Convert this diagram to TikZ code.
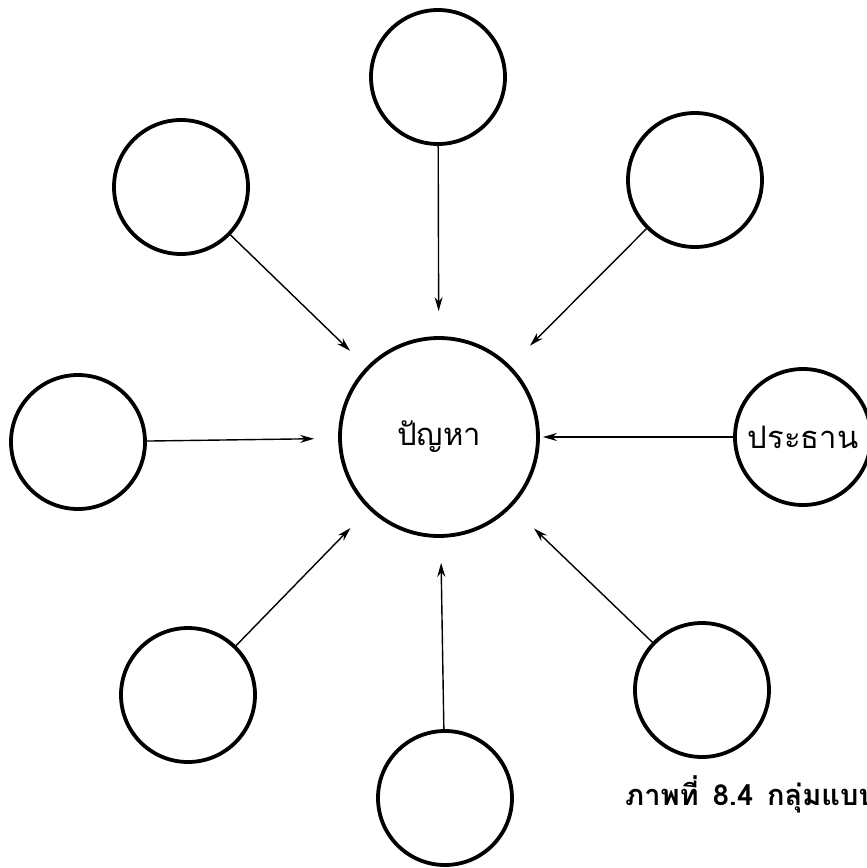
\documentclass[tikz,border=0pt]{standalone}
\usepackage{fontspec}
\newfontfamily\thaifont[Script=Thai]{Loma}
\usetikzlibrary{arrows.meta}
\begin{document}
\begin{tikzpicture}[x=1pt,y=-1pt,
  sat/.style={draw=black,circle,line width=3.8pt,minimum size=134pt,inner sep=0pt},
  hub/.style={draw=black,circle,line width=3.8pt,minimum size=198pt,inner sep=0pt},
  link/.style={line width=1.4pt,-{Stealth[length=14pt,width=8pt]}},
  lbl/.style={font=\thaifont\fontsize{31}{31}\selectfont}]
\useasboundingbox (0,0) rectangle (867,868);
\clip (0,0) rectangle (867,868);
\node[hub,lbl] (c) at (439,437) {ปัญหา};
\node[sat] (t) at (438,77) {};
\node[sat] (tl) at (181,187) {};
\node[sat] (tr) at (695,180) {};
\node[sat] (l) at (78,442) {};
\node[sat,minimum size=136pt,lbl,inner sep=0pt] (r) at (803,437) {ประธาน};
\node[sat] (bl) at (188,695) {};
\node[sat] (b) at (445,798) {};
\node[sat] (br) at (702,690) {};
\draw[link,shorten >=25pt] (t) -- (c);
\draw[link,shorten >=23pt] (tl) -- (c);
\draw[link,shorten >=28pt] (tr) -- (c);
\draw[link,shorten >=24pt] (l) -- (c);
\draw[link,shorten >=3pt] (r) -- (c);
\draw[link,shorten >=26pt] (bl) -- (c);
\draw[link,shorten >=25pt] (b) -- (c);
\draw[link,shorten >=31pt] (br) -- (c);
\node[anchor=base west,inner sep=0pt,font=\thaifont\bfseries\fontsize{29}{29}\selectfont] (cap) at (625,805) {ภาพที่\hspace{14pt}8.4\hspace{14pt}กลุ่มแบบ};
\end{tikzpicture}
\end{document}
